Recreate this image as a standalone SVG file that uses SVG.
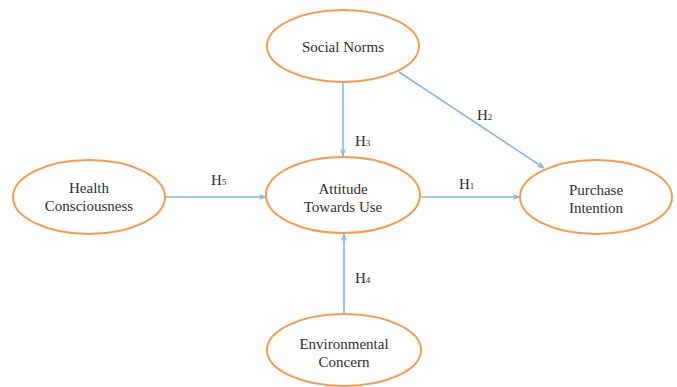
<svg xmlns="http://www.w3.org/2000/svg" width="677" height="387" viewBox="0 0 677 387">
<style>
.node ellipse{fill:#fff;stroke:#f39c4f;stroke-width:2}
.node text{font-family:'Liberation Serif','Times New Roman',serif;font-size:15px;fill:#2e2e2e;text-anchor:middle}
.edge{stroke:#8db4de;stroke-width:1.6;fill:none;marker-end:url(#arr)}
.lbl{font-family:'Liberation Serif','Times New Roman',serif;font-size:15px;fill:#2e2e2e}
.sub{font-size:9px}
</style>
<defs>
<marker id="arr" viewBox="0 0 10 10" refX="9" refY="5" markerWidth="8" markerHeight="8" orient="auto" markerUnits="userSpaceOnUse">
<path d="M0,1 L10,5 L0,9 L3,5 Z" fill="#8db4de"/>
</marker>
</defs>
<rect width="677" height="387" fill="#fff"/>
<g id="connectors">
<line class="edge" x1="343" y1="82" x2="343" y2="156"/>
<line class="edge" x1="399" y1="72" x2="544" y2="168"/>
<line class="edge" x1="421" y1="197" x2="520" y2="197"/>
<line class="edge" x1="165" y1="197" x2="266" y2="197"/>
<line class="edge" x1="344" y1="313" x2="344" y2="234"/>
<text class="lbl" x="355" y="146">H<tspan class="sub">3</tspan></text>
<text class="lbl" x="477" y="120">H<tspan class="sub">2</tspan></text>
<text class="lbl" x="459" y="189">H<tspan class="sub">1</tspan></text>
<text class="lbl" x="211" y="185">H<tspan class="sub">5</tspan></text>
<text class="lbl" x="355" y="283">H<tspan class="sub">4</tspan></text>
</g>
<g id="social-norms" class="node">
<ellipse cx="343" cy="46" rx="76" ry="36"/>
<text x="343" y="52">Social Norms</text>
</g>
<g id="health-consciousness" class="node">
<ellipse cx="89" cy="197" rx="76" ry="37"/>
<text x="89" y="193">Health</text>
<text x="89" y="211">Consciousness</text>
</g>
<g id="attitude" class="node">
<ellipse cx="343" cy="195" rx="77" ry="38"/>
<text x="343" y="194">Attitude</text>
<text x="343" y="212">Towards Use</text>
</g>
<g id="purchase-intention" class="node">
<ellipse cx="596" cy="197" rx="76" ry="37"/>
<text x="596" y="195">Purchase</text>
<text x="596" y="213">Intention</text>
</g>
<g id="environmental-concern" class="node">
<ellipse cx="344" cy="350" rx="77" ry="36"/>
<text x="344" y="349">Environmental</text>
<text x="344" y="367">Concern</text>
</g>
</svg>
